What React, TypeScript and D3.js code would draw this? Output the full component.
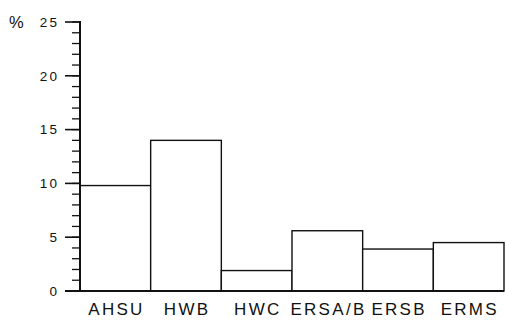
import React from "react";
import * as d3 from "d3";

const categories = ["AHSU", "HWB", "HWC", "ERSA/B", "ERSB", "ERMS"];
const values = [9.8, 14.0, 1.9, 5.6, 3.9, 4.5];
const majorTicks = [0, 5, 10, 15, 20, 25];
const minorTicks = d3.range(0, 26, 1);
const unitLabel = "%";

const W = 505;
const H = 320;
const left = 80;
const right = 504;
const top = 22;
const bottom = 291;

export default function App() {
  const x = d3.scaleBand<string>().domain(categories).range([left, right]).padding(0);
  const y = d3.scaleLinear().domain([0, 25]).range([bottom, top]);
  const font = "'Liberation Sans', Arial, Helvetica, sans-serif";
  const catSpacing = 2.3;
  const tickSpacing = 2.2;
  return (
    <svg
      width={W}
      height={H}
      style={{ position: "absolute", left: 0, top: 0, background: "#fff" }}
    >
      {categories.map((c, i) => (
        <rect
          key={c}
          x={x(c)!}
          y={y(values[i])}
          width={x.bandwidth()}
          height={y(0) - y(values[i])}
          fill="#fff"
          stroke="#111"
          strokeWidth={1.4}
        />
      ))}
      {minorTicks.map((t) => (
        <line key={"m" + t} x1={72} x2={left} y1={y(t)} y2={y(t)} stroke="#111" strokeWidth={1.3} />
      ))}
      {majorTicks.map((t) => (
        <g key={"M" + t}>
          <line x1={65} x2={left} y1={y(t)} y2={y(t)} stroke="#111" strokeWidth={1.6} />
          <text
            x={57 + tickSpacing}
            y={y(t)}
            dy="0.35em"
            textAnchor="end"
            fontFamily={font}
            fontSize={13.5}
            letterSpacing={tickSpacing}
            fill="#111"
          >
            {t}
          </text>
        </g>
      ))}
      <line x1={left} x2={left} y1={top - 1} y2={bottom + 1} stroke="#111" strokeWidth={2} />
      <line x1={65} x2={right} y1={bottom} y2={bottom} stroke="#111" strokeWidth={2} />
      <text x={9} y={y(25)} dy="0.35em" fontFamily={font} fontSize={16.5} fill="#111">
        {unitLabel}
      </text>
      {categories.map((c) => (
        <text
          key={"l" + c}
          x={x(c)! + x.bandwidth() / 2 + catSpacing / 2}
          y={315}
          textAnchor="middle"
          fontFamily={font}
          fontSize={17}
          letterSpacing={catSpacing}
          fill="#111"
        >
          {c}
        </text>
      ))}
    </svg>
  );
}
